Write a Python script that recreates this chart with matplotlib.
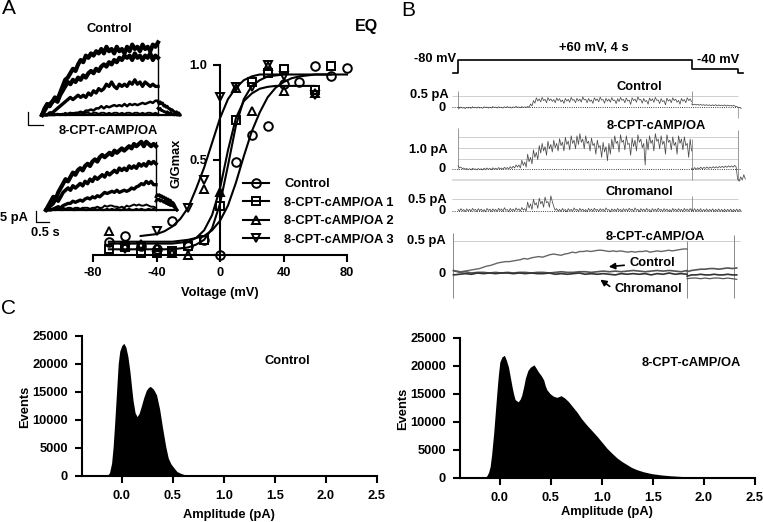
import numpy as np
import matplotlib
matplotlib.use('Agg')
import matplotlib.pyplot as plt
from matplotlib.patches import FancyArrowPatch

plt.rcParams['font.family'] = ['Liberation Sans', 'DejaVu Sans']
plt.rcParams['font.weight'] = 'bold'
plt.rcParams['font.size'] = 9.3

W, H = 763, 522

# --- panel A, G/Gmax points
volt = [-70, -60, -50, -40, -30, -20, -10, 0, 10, 20, 30, 40, 50, 60, 70, 80]
g_control = [0.07, 0.10, 0.05, 0.03, 0.18, 0.05, 0.08, 0.0, 0.49, 0.63, 0.68, 0.90, 0.91, 0.995, 0.94, 0.985]
v_square = [-70, -60, -50, -40, -30, -20, -10, 0, 10, 20, 30, 40, 60, 70]
g_square = [0.03, 0.04, 0.01, 0.01, 0.02, 0.047, 0.08, 0.26, 0.71, 0.91, 0.96, 0.98, 0.87, 0.995]
v_up = [-70, -60, -50, -40, -30, -20, -10, 0, 10, 20, 30, 40, 60]
g_up = [0.125, 0.05, 0.06, 0.04, 0.01, 0.0, 0.35, 0.33, 0.88, 0.76, 0.995, 0.865, 0.85]
v_down = [-60, -50, -40, -30, -20, -10, 0, 10, 20, 30, 40, 60]
g_down = [0.03, 0.05, 0.125, 0.01, 0.25, 0.395, 0.83, 0.885, 0.885, 1.0, 0.94, 0.84]

fit_v_control = list(range(-70, 85, 5))
fit_control = [0.07, 0.07, 0.07, 0.07, 0.07, 0.07, 0.07, 0.07, 0.07, 0.075, 0.08, 0.09, 0.10, 0.13, 0.18,
               0.26, 0.38, 0.52, 0.65, 0.75, 0.83, 0.88, 0.91, 0.93, 0.94, 0.945, 0.95, 0.95, 0.95, 0.95, 0.95]
fit_v_square = list(range(-70, 75, 5))
fit_square = [0.03, 0.03, 0.03, 0.03, 0.03, 0.03, 0.03, 0.03, 0.03, 0.035, 0.04, 0.055, 0.08, 0.14, 0.27,
              0.47, 0.68, 0.82, 0.89, 0.92, 0.94, 0.945, 0.95, 0.95, 0.95, 0.95, 0.95, 0.95, 0.95]
fit_v_up = list(range(-70, 65, 5))
fit_up = [0.06, 0.06, 0.06, 0.06, 0.06, 0.06, 0.06, 0.06, 0.06, 0.065, 0.07, 0.09, 0.13, 0.21, 0.35,
          0.55, 0.72, 0.81, 0.85, 0.875, 0.885, 0.89, 0.89, 0.89, 0.89, 0.89, 0.89]
fit_v_down = list(range(-50, 45, 5))
fit_down = [0.10, 0.105, 0.11, 0.125, 0.15, 0.19, 0.25, 0.35, 0.46, 0.59, 0.72, 0.82, 0.88, 0.92, 0.94,
            0.95, 0.95, 0.95, 0.95]

# --- panel A, current insets (pA)
ctrl_1 = [0, 3, 5, 4, 6, 8, 7, 10, 13, 16, 17, 19, 21, 20, 23, 25, 24, 27, 26, 28, 27, 29, 28, 30, 28, 31, 29, 30, 28, 31,
          29, 30, 28, 31, 29, 32, 30, 31, 29, 32, 30, 31, 29, 32, 31, 33]
ctrl_2 = [0, 2, 4, 5, 6, 7, 6, 9, 11, 13, 15, 14, 16, 15, 17, 16, 18, 17, 19, 20, 19, 21, 20, 22, 23, 22, 24, 23, 25, 24,
          26, 25, 27, 26, 27, 25, 28, 26, 27, 25, 27, 26, 28, 25, 27, 26]
ctrl_3 = [0, 0, 0, 1, 1, 2, 3, 4, 5, 6, 7, 8, 7, 8, 9, 8, 9, 8, 10, 9, 11, 10, 12, 11, 12, 14, 13, 15, 13, 12, 14, 13, 14,
          13, 15, 14, 16, 14, 15, 13, 15, 14, 13, 14, 13, 13]
ctrl_4 = [0, 0, 0, 0, 0, 0, 0.5, 0, 0.5, 0, 0.5, 1, 0.5, 1, 1, 1.5, 1, 2, 2, 2.5, 2, 3, 3, 4, 3, 4, 3.5, 4, 4.5, 4, 4.5, 4,
          5, 4, 5, 4.5, 5, 4.5, 5, 5.5, 5, 5.5, 6, 5.5, 6.5, 6.5]
ctrl_5 = [0, 0, 0.5, 0, 0, 0.5, 0, 0.5, 0, 1, 0.5, 0, 1, 0.5, 1, 1, 0.5, 1, 1, 0.5, 1, 1, 0.5, 1, 1, 0.5, 1, 0.5, 1, 1,
          0.5, 1, 0.5, 1, 1, 0.5, 1, 1, 0.5, 1, 0.5, 1, 1, 0.5, 1, 0.5]
ctrl_tail = [6, 5, 6, 5, 5.5, 4, 4.5, 3.5, 4, 3, 3, 2, 2.5, 2, 1.5, 1, 1.5, 0.5, 1, 0]
ctrl_tail_low = [3, 2.5, 3, 2, 2, 1.5, 1.5, 1, 1.5, 1, 0.5, 1, 0.5, 0.5, 0, 0.5, 0, 0, 0, 0]

oa_1 = [0, 2, 4, 6, 5, 8, 10, 12, 14, 13, 15, 17, 16, 18, 19, 18, 20, 21, 20, 22, 23, 22, 24, 25, 24, 25, 26, 25, 27, 26,
        27, 28, 27, 28, 29, 28, 30, 29, 30, 31, 29, 31, 30, 29, 30, 29]
oa_2 = [0, 1, 2, 3, 5, 4, 6, 8, 9, 10, 9, 11, 10, 11, 12, 11, 13, 12, 14, 13, 15, 14, 15, 16, 15, 17, 16, 17, 18, 17, 19,
        18, 19, 18, 20, 19, 20, 19, 21, 20, 21, 20, 22, 21, 22, 21]
oa_3 = [0, 0, 0, 0.5, 1, 1.5, 1, 2, 2.5, 3, 3, 4, 3.5, 4, 4.5, 4, 5, 5.5, 5, 6, 5.5, 6.5, 6, 7, 8, 7.5, 8, 8.5, 8, 9, 8, 8.5,
        9, 8.5, 9, 10, 9.5, 10.5, 11, 12, 11.5, 13, 12, 13, 11.5, 11.5]
oa_4 = [0, 0.5, 0, 0.5, 0, 1, 0.5, 1, 0.5, 1, 1, 0.5, 1, 1, 0.5, 1, 1, 1, 0.5, 1, 1, 1.5, 1, 1, 2, 1.5, 2, 2, 1.5, 1.5, 1,
        1.5, 1, 2, 1.5, 2, 2.5, 2, 2.5, 2, 2, 2.5, 2, 1.5, 1.5, 1]
oa_5 = [0, 0, 0.5, 0, 0, 0.5, 0, 0, 0.5, 0, 0.5, 0, 0, 0.5, 0, 0.5, 0, 0, 0.5, 0, 0.5, 0, 0.5, 0, 0, 0.5, 0, 0.5, 0, 0.5,
        0, 0, 0.5, 0, 0.5, 0, 0, 0.5, 0, 0.5, 0, 0, 0.5, 0, 0.5, 0]
oa_tail = [6, 7, 6.5, 7, 6, 6.5, 5.5, 6, 5, 5.5, 4.5, 5, 4, 4.5, 3.5, 3.5, 3, 2, 1, 0]
oa_tail_low = [4, 5, 4.5, 5, 4, 4.5, 4, 3.5, 4, 3, 3.5, 2.5, 3, 2, 2.5, 2, 1.5, 1, 0.5, 0]

# --- panel B, voltage step
step_t = [-0.08, 0.0, 0.0, 4.0, 4.0, 4.8, 4.8, 4.88]
step_mv = [-80, -80, 60, 60, -40, -40, -80, -80]

# --- panel B, single channel traces (pA): upper and lower edge of the noise, one value per 0.05 s
b_control_hi = [-.02, 0, -.03, -.01, -.02, .01, -.01, 0, -.02, .01, 0, -.01, .02, 0, .01, -.01, .01, .02, 0, .01,
                .03, 0, .02, .01, .03, .14, .3, .43, .38, .45, .36, .44, .38, .35, .42, .39, .33, .4, .36, .45, .35, .41,
                .37, .47, .36, .4, .33, .43, .38, .46, .35, .41, .37, .44, .33, .39, .45, .36, .42, .32, .43, .37, .47,
                .35, .4, .3, .42, .38, .45, .33, .39, .3, .41, .35, .43, .37, .31, .4, .35, .43, .38]
b_control_lo = [-.06, -.05, -.07, -.05, -.06, -.04, -.05, -.05, -.06, -.03, -.05, -.05, -.03, -.05, -.03, -.05, -.03, -.03, -.05, -.03,
                -.02, -.04, -.03, -.03, -.02, .05, .18, .28, .24, .3, .2, .3, .26, .2, .3, .24, .17, .28, .22, .31, .2, .28,
                .23, .33, .2, .26, .17, .3, .24, .32, .18, .27, .22, .3, .16, .25, .31, .2, .28, .12, .3, .22, .33, .18,
                .26, .13, .29, .22, .31, .16, .25, .1, .28, .2, .3, .22, .13, .27, .2, .3, .25]
b_control_tail = [.14, .1, .13, .09, .13, .08, .12, .08, .11, .07, .11, .07, .1, .06, .1, .06, .11, .05, .1, .06, .09, .05,
                  .1, .04, .09, .05, .08, .04, .08, .03, .02, -.02, -.03, -.06]

b_oa_hi = [.16, .1, .06, .04, .03, .05, .02, .04, .03, .05, .06, .04, .07, .05, .08, .06, .09, .08, .12, .14, .2,
           .2, .42, .33, .7, .55, .9, .78, 1.1, 1.2, 1.05, 1.3, 1.15, 1.35, 1.2, 1.42, 1.25, 1.48, 1.3, 1.55, 1.35, 1.55, 1.65,
           1.4, 1.55, 1.3, 1.45, 1.2, 1.35, 1.1, 1.25, 1.05, 1.2, 1.4, 1.55, 1.3, 1.6, 1.35, 1.55, 1.2, 1.45, 1.35, 1.6, 1.4,
           1.2, 1.4, 1.55, 1.35, 1.65, 1.4, 1.55, 1.3, 1.6, 1.35, 1.5, 1.25, 1.55, 1.4, 1.5, 1.2, 1.4]
b_oa_lo = [.08, .03, 0, -.02, -.03, 0, -.03, -.02, -.03, -.01, 0, -.02, 0, -.01, .02, 0, .03, .01, .04, .06, .1,
           .06, .18, .1, .35, .25, .55, .45, .75, .85, .65, .95, .8, 1.0, .85, 1.1, .85, 1.15, .9, 1.2, .95, 1.15, 1.25,
           .95, 1.2, .85, 1.1, .7, 1.0, .55, .8, .4, .7, .95, 1.2, .8, 1.25, .9, 1.15, .65, 1.05, .85, 1.25, 1.0,
           .2, .9, 1.2, .85, 1.3, .95, 1.15, .7, 1.25, .9, 1.1, .7, 1.2, .9, 1.1, .55, .85]
b_oa_tail = [.05, -.02, .08, 0, .07, .02, .1, .02, .09, .04, .11, .04, .1, .05, .12, .06, .12, .06, .13, .08, .14, .08,
             .15, .09, .16, .1, .16, .1, .18, .11, -.45, -.55, -.35, -.5, -.25, -.45]
b_chrom_hi = [.06, .09, .05, .08, .06, .1, .06, .09, .07, .05, .1, .07, .08, .06, .11, .08, .13, .05, .1, .07, .12, .08, .14, .09,
              .38, .3, .5, .35, .55, .42, .6, .4, .65, .18, .09, .06, .1, .05, .09, .06, .12, .06, .1, .07, .05, .1, .07, .11,
              .06, .09, .07, .12, .05, .08, .07, .1, .06, .09, .07, .11, .07, .12, .06, .09, .07, .1, .05, .09, .07, .11, .06,
              .09, .07, .05, .1, .07, .09, .06, .1, .07, .09]
b_chrom_lo = [-.03, 0, -.04, -.01, -.03, .01, -.04, 0, -.02, -.05, .01, -.03, -.01, -.04, 0, -.03, .02, -.05, 0, -.03, .02, -.02, .03, -.01,
              .12, .05, .25, .1, .3, .15, .35, .15, .4, .02, -.02, -.04, 0, -.05, 0, -.03, .02, -.04, 0, -.02, -.05, 0, -.03, .01,
              -.04, 0, -.02, .02, -.05, -.01, -.03, 0, -.04, 0, -.02, .01, -.03, .02, -.04, 0, -.02, .01, -.05, 0, -.03, .01, -.04,
              0, -.02, -.05, 0, -.03, 0, -.04, 0, -.02, 0]
b_chrom_tail = [.07, -.01, .09, -.03, .07, -.02, .09, -.04, .06, -.02, .08, -.03, .06, -.02, .08, -.03, .06, -.02, .08, -.04,
                .06, -.03, .07, -.04, .06, -.02, .07, -.04, .06, -.03, .07, -.03, .06, -.03]

b_ens_oa = [.03, .03, .02, .03, .04, .05, .06, .07, .09, .11, .12, .14, .16, .17, .18, .18, .19, .2, .21, .23, .22, .24, .25,
            .26, .25, .27, .29, .3, .29, .28, .3, .31, .33, .32, .34, .34, .35, .34, .35, .36, .36, .35, .34, .35, .34, .35,
            .34, .33, .34, .33, .34, .34, .35, .33, .34, .35, .34, .35, .36, .35, .36, .37, .38, .38]
b_ens_ctrl = [.04, .01, .02, 0, .01, .01, 0, .01, 0, .01, 0, .01, .01, 0, .01, .01, 0, .01, .02, .01, .01, .02, .02, .01, .02,
              .03, .02, .03, .02, .03, .04, .03, .02, .03, .04, .03, .04, .03, .02, .04]
b_ens_chrom = [-.03, -.02, -.01, -.02, 0, -.01, 0, -.01, 0, 0, -.01, 0, -.01, 0, -.01, -.01, 0, -.02, -.01, -.02, -.01, 0, -.02,
               -.01, -.02, -.01, -.02, -.03, -.01, -.02, -.01, -.02, -.01, -.03, -.01, -.02, 0, -.02, -.01, -.02]
b_ens_ctrl_tail = [.02, .04, .05, .06, .06, .07, .07, .06, .07, .08, .07, .08]
b_ens_chrom_tail = [-.05, -.03, -.03, -.02, -.03, -.03, -.02, -.03, -.03, -.02, -.03, -.03]
b_ens_low_tail = [-.09, -.08, -.08, -.09, -.08, -.09, -.08, -.08, -.09, -.08, -.09, -.1]

# --- panel C, all-points histograms
amp_ctrl = [-0.39, -0.16, -0.14, -0.12, -0.10, -0.085, -0.07, -0.05, -0.035, -0.02, 0.0, 0.02, 0.04, 0.06, 0.08, 0.095, 0.11,
            0.13, 0.15, 0.17, 0.19, 0.215, 0.24, 0.26, 0.28, 0.31, 0.34, 0.37, 0.40, 0.43, 0.455, 0.48, 0.5, 0.54, 0.58,
            0.62, 0.66, 0.8, 2.5]
events_ctrl = [0, 0, 100, 600, 2300, 5200, 9400, 15500, 20100, 22300, 23300, 23700, 23000, 21300, 18600, 16000, 13500,
               11300, 10600, 11200, 12400, 14000, 15300, 15800, 16000, 15500, 14500, 12000, 8500, 5300, 3200, 2200, 1700, 800, 450,
               220, 100, 10, 0]
amp_oa = [-0.39, -0.18, -0.155, -0.13, -0.11, -0.095, -0.08, -0.06, -0.045, -0.03, -0.015, 0.0, 0.02, 0.045, 0.065, 0.085, 0.10,
          0.12, 0.135, 0.15, 0.18, 0.2, 0.215, 0.235, 0.25, 0.275, 0.3, 0.335, 0.36, 0.38, 0.405, 0.43, 0.445, 0.46, 0.49,
          0.525, 0.56, 0.6, 0.635, 0.67, 0.71, 0.755, 0.80, 0.85, 0.90, 0.95, 1.0, 1.05, 1.1, 1.15, 1.2, 1.245, 1.29, 1.34,
          1.41, 1.49, 1.58, 1.67, 1.83, 2.0, 2.3, 2.5]
events_oa = [0, 0, 100, 300, 1000, 2000, 4200, 8000, 11500, 15000, 18200, 20700, 21600, 21900, 21000, 19800, 18300,
             16300, 15000, 14000, 13600, 14100, 14800, 16400, 17800, 19200, 19800, 20200, 19500, 18900, 18300, 17500, 16500, 15800, 15100,
             14600, 14400, 14700, 14300, 13700, 12800, 11800, 10600, 9500, 8500, 7500, 6400, 5300, 4400, 3550, 2900, 2400, 1900, 1500,
             1100, 770, 550, 400, 220, 120, 20, 0]
amp_ticks = [0.0, 0.5, 1.0, 1.5, 2.0, 2.5]
event_ticks = [0, 5000, 10000, 15000, 20000, 25000]


fig = plt.figure(figsize=(W / 100, H / 100), dpi=100)


def px_axes(left, top, right, bottom):
    return fig.add_axes([left / W, 1 - bottom / H, (right - left) / W, (bottom - top) / H])


def label(x, y, s, ha='center', size=9.3, **kw):
    fig.text(x / W, 1 - y / H, s, ha=ha, va='center', fontsize=size, **kw)


def inset(left, right, base, step_px, px_s, px_pa, traces, tail_traces):
    ax = px_axes(left, base - 75, right, base)
    t_stop = (right - left) / px_s
    ax.set_xlim(0, t_stop)
    ax.set_ylim(0, 75 / px_pa)
    ax.axis('off')
    end = step_px / px_s
    for tr, lw in traces:
        ax.plot(np.linspace(0, end, len(tr)), tr, color='black', lw=lw, clip_on=False)
    for tr in tail_traces:
        ax.plot(np.linspace(end, t_stop, len(tr)), tr, color='black', lw=2.0, clip_on=False)
    ax.plot([end, end], [0, max(traces[0][0])], color='black', lw=1, clip_on=False)
    ax.plot([0, t_stop], [0, 0], color='black', lw=1.6, clip_on=False)


def trace_axes(t0_px, zero_px, px_pa, top, bottom):
    ax = px_axes(440, top, 752, bottom)
    ax.set_xlim((440 - t0_px) / 58.4, (752 - t0_px) / 58.4)
    ax.set_ylim((zero_px - bottom) / px_pa, (zero_px - top) / px_pa)
    ax.axis('off')
    return ax


def draw_noisy(ax, hi, lo, tail, tail_end=4.85):
    zig = np.column_stack([hi, lo]).ravel()
    ax.plot(np.linspace(0, 4, len(zig)), zig, color='#4a4a4a', lw=0.55)
    ax.plot(np.linspace(4, tail_end, len(tail)), tail, color='#4a4a4a', lw=0.55)


def draw_trace(ax, trace, tail, color, lw):
    ax.plot(np.linspace(0, 4, len(trace)), trace, color=color, lw=lw)
    if tail is not None:
        ax.plot(np.linspace(4, 4.85, len(tail)), tail, color=color, lw=lw)


def hist_panel(left, top, right, bottom, amp, events, title, title_x, title_y, label_x, xlabel_x, xlabel_y):
    ax = px_axes(left, top, right, bottom)
    ax.fill_between(amp, events, 0, color='black', lw=0)
    ax.set_xlim(-0.39, 2.5)
    ax.set_ylim(0, 25000)
    ax.set_xticks(amp_ticks, [f'{a:.1f}' for a in amp_ticks])
    ax.set_yticks(event_ticks, [str(e) for e in event_ticks])
    ax.tick_params(width=1.5, length=5, pad=5, labelsize=9.3)
    for s in ['top', 'right']:
        ax.spines[s].set_visible(False)
    for s in ['left', 'bottom']:
        ax.spines[s].set_linewidth(1.5)
    label(label_x, (top + bottom) / 2 + 1, 'Events', rotation=90)
    label(xlabel_x, xlabel_y, 'Amplitude (pA)')
    label(title_x, title_y, title)


# panel A, activation curves
ax = px_axes(93, 65, 347, 255)
ax.set_xlim(-80, 80)
ax.set_ylim(0, 1)
series = [(volt, g_control, fit_v_control, fit_control, 'o', 'Control'),
          (v_square, g_square, fit_v_square, fit_square, 's', '8-CPT-cAMP/OA 1'),
          (v_up, g_up, fit_v_up, fit_up, '^', '8-CPT-cAMP/OA 2'),
          (v_down, g_down, fit_v_down, fit_down, 'v', '8-CPT-cAMP/OA 3')]
for vx, gy, fx, fy, mk, name in series:
    ax.plot(fx, fy, color='black', lw=1.5, clip_on=False, zorder=3)
    ax.plot(vx, gy, mk, color='black', mfc='none', mew=1.4, ms=6.2, clip_on=False, zorder=4)
    ax.plot([], [], '-', marker=mk, color='black', mfc='none', mew=1.4, ms=6.2, lw=1.5, label=name)
ax.spines['left'].set_position(('data', 0))
ax.spines['left'].set_linewidth(1.5)
ax.spines['bottom'].set_linewidth(1.5)
for s in ['top', 'right']:
    ax.spines[s].set_visible(False)
ax.set_xticks([-80, -40, 0, 40, 80], ['-80', '-40', '0', '40', '80'])
ax.set_yticks([0, 0.5, 1.0], ['', '0.5', '1.0'])
ax.tick_params(width=1.5, length=5, pad=4, labelsize=9.3)
ax.legend(loc='center left', bbox_to_anchor=(243 / W, 1 - 212 / H), bbox_transform=fig.transFigure, frameon=False,
          borderpad=0, borderaxespad=0, handlelength=2.0, handletextpad=1.2, labelspacing=0.5, fontsize=9.3)
label(177, 163, 'G/Gmax', rotation=90)
label(220, 293, 'Voltage (mV)')
label(366, 27, 'EQ', size=11.5)

# panel A, insets
inset(42, 180, 115, 116, 26, 2.2,
      [(ctrl_1, 3.0), (ctrl_2, 3.0), (ctrl_3, 2.4), (ctrl_4, 1.8), (ctrl_5, 1.4)], [ctrl_tail, ctrl_tail_low])
inset(46, 177, 210, 110, 26, 2.2,
      [(oa_1, 3.0), (oa_2, 2.6), (oa_3, 2.4), (oa_4, 1.4), (oa_5, 1.6)], [oa_tail, oa_tail_low])
label(109, 29, 'Control')
label(108, 131, '8-CPT-cAMP/OA')
for x0, y0, y1, x1 in [(28, 112, 125, 43), (36, 211, 222, 49)]:
    fig.add_artist(plt.Line2D([x0 / W, x0 / W, x1 / W], [1 - y0 / H, 1 - y1 / H, 1 - y1 / H], color='black', lw=0.9))
label(0, 218, '5 pA', ha='left')
label(45, 233, '0.5 s')

# panel B, voltage step
ax = px_axes(440, 50, 752, 80)
ax.set_xlim((440 - 458) / 58.4, (752 - 458) / 58.4)
ax.set_ylim(-80 - 7 * 140 / 13, 60 + 10 * 140 / 13)
ax.axis('off')
ax.plot(step_t, step_mv, color='black', lw=1.2)
label(594, 48, '+60 mV, 4 s')
label(435, 59, '-80 mV')
label(718, 60, '-40 mV')

# panel B, control sweep
ax = trace_axes(458, 107, 21.4, 85, 120)
ax.hlines(0.5, -0.1, 4.8, color='#c8c8c8', lw=0.6)
ax.hlines(0, -0.1, 4.85, color='black', lw=0.6, ls=':')
ax.vlines([0, 4], [-0.1, 0.1], [0.75, 0.75], color='#888888', lw=0.6)
ax.vlines(4.8, -0.5, 0, color='#aaaaaa', lw=0.8)
draw_noisy(ax, b_control_hi, b_control_lo, b_control_tail)
label(639, 87, 'Control')
label(449, 95, '0.5 pA', ha='right')
label(442, 108, '0')

# panel B, 8-CPT-cAMP/OA sweep
ax = trace_axes(458, 169.3, 21.6, 125, 182)
ax.hlines([0.5, 1.0, 1.5], 0, 4.8, color='#c8c8c8', lw=0.6)
ax.hlines(-0.5, -0.1, 4.85, color='#dddddd', lw=1.4)
ax.hlines(0, -0.1, 4.85, color='black', lw=0.6, ls=':')
ax.vlines([0, 4, 4.8], [0, -0.5, -0.5], [1.9, 1.4, 1.8], color='#888888', lw=0.6)
draw_noisy(ax, b_oa_hi, b_oa_lo, b_oa_tail, tail_end=4.92)
label(656, 126, '8-CPT-cAMP/OA')
label(428, 150, '1.0 pA')
label(442, 169, '0')

# panel B, chromanol sweep
ax = trace_axes(458, 210.7, 22.8, 190, 220)
ax.hlines(0.5, -0.1, 4.8, color='#c8c8c8', lw=0.6)
ax.hlines(0, -0.1, 4.85, color='black', lw=0.6, ls=':')
ax.vlines(4, 0, 0.65, color='#888888', lw=0.6)
draw_noisy(ax, b_chrom_hi, b_chrom_lo, b_chrom_tail)
label(639, 192, 'Chromanol')
label(427, 200, '0.5 pA')
label(442, 211, '0')

# panel B, ensemble averages
ax = trace_axes(453.5, 273, 63.2, 230, 300)
ax.hlines(0.5, 0, 4.9, color='#c8c8c8', lw=0.6)
ax.vlines([0, 4, 4.8], -0.4, [0.63, 0.5, 0.6], color='#888888', lw=0.7)
draw_trace(ax, b_ens_oa, None, '#666666', 1.0)
draw_trace(ax, b_ens_ctrl, b_ens_ctrl_tail, '#555555', 1.2)
draw_trace(ax, b_ens_chrom, b_ens_chrom_tail, '#333333', 1.2)
ax.plot(np.linspace(4, 4.85, len(b_ens_low_tail)), b_ens_low_tail, color='#555555', lw=0.9)
label(655, 237, '8-CPT-cAMP/OA')
label(426, 241, '0.5 pA')
label(442, 274, '0')
label(652, 263, 'Control')
label(648, 289, 'Chromanol')
arrow_style = dict(arrowstyle='-|>', color='black', lw=1.2, mutation_scale=9)
fig.add_artist(FancyArrowPatch((627 / W, 1 - 265 / H), (606 / W, 1 - 267 / H), transform=fig.transFigure, **arrow_style))
fig.add_artist(FancyArrowPatch((612 / W, 1 - 288 / H), (598 / W, 1 - 278 / H), transform=fig.transFigure, **arrow_style))

# panel C
hist_panel(82, 336, 377, 476, amp_ctrl, events_ctrl, 'Control', 287, 361, 25, 229, 515)
hist_panel(460, 338, 755, 478, amp_oa, events_oa, '8-CPT-cAMP/OA', 691, 363, 403, 607, 512)

# panel letters
label(2, 9, 'A', ha='left', size=15, fontweight='normal')
label(408, 10, 'B', size=15, fontweight='normal')
label(8, 309, 'C', size=15, fontweight='normal')

fig.savefig('out.png', dpi=100)
